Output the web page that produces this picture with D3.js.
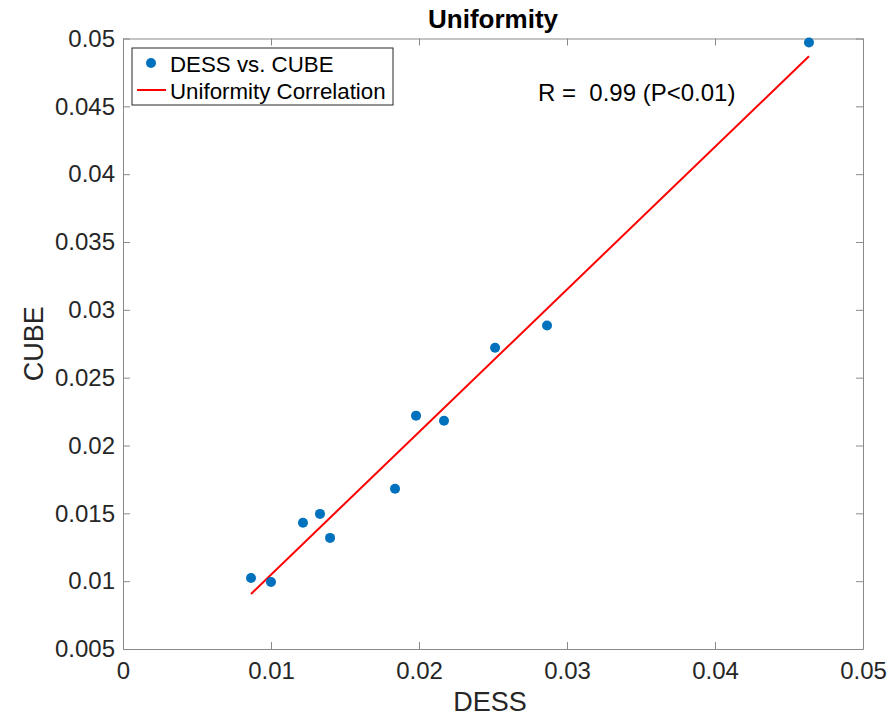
<!DOCTYPE html>
<html>
<head>
<meta charset="utf-8">
<script src="https://cdn.jsdelivr.net/npm/d3@7"></script>
<style>
  body { margin: 0; background: #fff; }
  text { font-family: "Liberation Sans", Arial, Helvetica, sans-serif; fill: #262626; }
</style>
</head>
<body>
<div id="chart"></div>
<script>
// DESS vs CUBE uniformity values
const dess = [0.00865, 0.0100, 0.01216, 0.01331, 0.01399, 0.01838, 0.0198, 0.02169, 0.02514, 0.02865, 0.04635];
const cube = [0.01024, 0.00994, 0.0143, 0.01496, 0.01319, 0.01681, 0.0222, 0.02183, 0.02721, 0.02884, 0.0497];
// fitted line endpoints
const fitX = [0.00865, 0.04635];
const fitY = [0.00906, 0.04869];
const xTicks = [0, 0.01, 0.02, 0.03, 0.04, 0.05];
const xTickLabels = ["0", "0.01", "0.02", "0.03", "0.04", "0.05"];
const yTicks = [0.005, 0.01, 0.015, 0.02, 0.025, 0.03, 0.035, 0.04, 0.045, 0.05];
const yTickLabels = ["0.005", "0.01", "0.015", "0.02", "0.025", "0.03", "0.035", "0.04", "0.045", "0.05"];
const legendLabels = ["DESS vs. CUBE", "Uniformity Correlation"];

const width = 895, height = 721;
const padL = 123, padR = 863, padT = 38.5, padB = 649;

const svg = d3.select("#chart").append("svg")
  .attr("width", width)
  .attr("height", height);

const x = d3.scaleLinear().domain([0, 0.05]).range([padL, padR]);
const y = d3.scaleLinear().domain([0.005, 0.05]).range([padB, padT]);

// axes with inner ticks, box on all sides
const tickLen = 7;
const xAxis = d3.axisBottom(x).tickValues(xTicks).tickFormat((d, i) => xTickLabels[i])
  .tickSizeInner(-tickLen).tickSizeOuter(0).tickPadding(13);
const yAxis = d3.axisLeft(y).tickValues(yTicks).tickFormat((d, i) => yTickLabels[i])
  .tickSizeInner(-tickLen).tickSizeOuter(0).tickPadding(8);

svg.append("g").attr("transform", "translate(0," + padB + ")").call(xAxis);
svg.append("g").attr("transform", "translate(" + padL + ",0)").call(yAxis);
svg.append("g").attr("transform", "translate(0," + padT + ")")
  .call(d3.axisTop(x).tickValues(xTicks).tickFormat("").tickSizeInner(-tickLen).tickSizeOuter(0));
svg.append("g").attr("transform", "translate(" + padR + ",0)")
  .call(d3.axisRight(y).tickValues(yTicks).tickFormat("").tickSizeInner(-tickLen).tickSizeOuter(0));

svg.selectAll(".domain, .tick line").attr("stroke", "#8a8a8a").attr("stroke-width", 1);
svg.selectAll(".tick text")
  .attr("font-family", "Liberation Sans, Arial, sans-serif")
  .attr("font-size", 24)
  .attr("fill", "#262626");

// fit line
svg.append("line")
  .attr("x1", x(fitX[0])).attr("y1", y(fitY[0]))
  .attr("x2", x(fitX[1])).attr("y2", y(fitY[1]))
  .attr("stroke", "#ff0000")
  .attr("stroke-width", 2);

// points
svg.selectAll("circle.pt")
  .data(dess)
  .enter()
  .append("circle")
  .attr("class", "pt")
  .attr("cx", d => x(d))
  .attr("cy", (d, i) => y(cube[i]))
  .attr("r", 5)
  .attr("fill", "#0072BD");

// title and labels
svg.append("text")
  .attr("x", (padL + padR) / 2).attr("y", 28)
  .attr("text-anchor", "middle")
  .attr("font-size", 26).attr("font-weight", "bold")
  .style("fill", "#000")
  .text("Uniformity");
svg.append("text")
  .attr("x", 490).attr("y", 711)
  .attr("text-anchor", "middle")
  .attr("font-size", 27)
  .text("DESS");
svg.append("text")
  .attr("transform", "translate(43," + (padT + padB) / 2 + ") rotate(-90)")
  .attr("text-anchor", "middle")
  .attr("font-size", 27)
  .text("CUBE");

// R annotation
svg.append("text")
  .attr("x", 538).attr("y", 101)
  .attr("font-size", 24)
  .style("white-space", "pre")
  .style("fill", "#000")
  .text("R =  0.99 (P<0.01)");

// legend
const lg = svg.append("g");
lg.append("rect")
  .attr("x", 132).attr("y", 48)
  .attr("width", 261).attr("height", 57)
  .attr("fill", "#fff")
  .attr("stroke", "#262626")
  .attr("stroke-width", 1);
lg.append("circle")
  .attr("cx", 151).attr("cy", 63).attr("r", 5)
  .attr("fill", "#0072BD");
lg.append("line")
  .attr("x1", 137).attr("x2", 166).attr("y1", 90).attr("y2", 90)
  .attr("stroke", "#ff0000").attr("stroke-width", 2);
lg.selectAll("text.lab")
  .data(legendLabels)
  .enter()
  .append("text")
  .attr("class", "lab")
  .attr("x", 170)
  .attr("y", (d, i) => 72 + i * 27)
  .attr("font-size", 22.3)
  .style("fill", "#000")
  .text(d => d);
</script>
</body>
</html>
